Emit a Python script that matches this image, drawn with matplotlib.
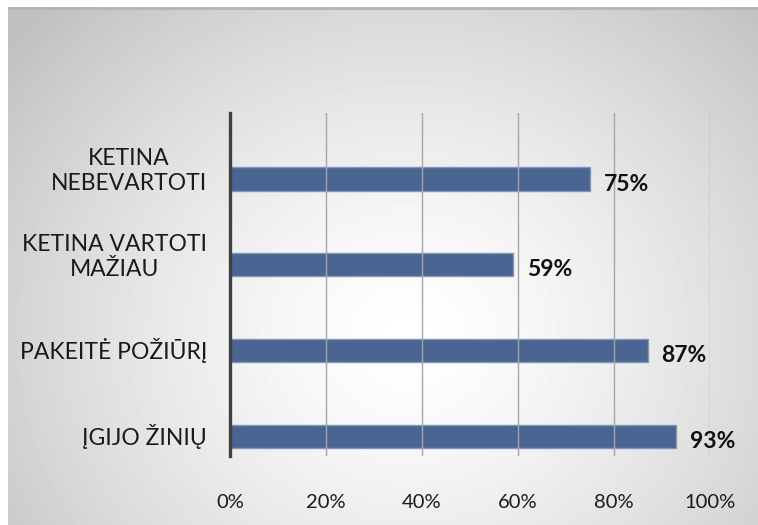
import numpy as np
import matplotlib
matplotlib.use('Agg')
import matplotlib.pyplot as plt

plt.rcParams['font.family'] = ['Lato', 'DejaVu Sans']

# data (bottom to top)
categories = ['ĮGIJO ŽINIŲ', 'PAKEITĖ POŽIŪRĮ', 'KETINA VARTOTI\nMAŽIAU', 'KETINA\nNEBEVARTOTI']
values = [93, 87, 59, 75]
ticks = [0, 20, 40, 60, 80, 100]
tick_labels = ['0%', '20%', '40%', '60%', '80%', '100%']

W, H = 758, 525
fig = plt.figure(figsize=(W / 100, H / 100), dpi=100)
fig.patch.set_facecolor('white')

# radial grey gradient behind the chart
bg = fig.add_axes([8 / W, 0, (W - 8) / W, (H - 7) / H])
yy, xx = np.mgrid[0:518, 0:750]
r = np.hypot((xx - 400) / 520, (yy - 330) / 470)
shade = 1.0 - 0.25 * np.clip(r, 0, 1) ** 1.4
bg.imshow(shade, cmap='gray', vmin=0, vmax=1, aspect='auto', interpolation='bilinear')
bg.axhline(0, color='#b4b4b4', lw=2)
bg.axis('off')

ax = fig.add_axes([230 / W, (H - 456) / H, 480 / W, 343 / H])
ax.patch.set_alpha(0)
ypos = np.arange(len(categories))
ax.barh(ypos, values, height=0.27, color='#4a6591', edgecolor='#8196ba', linewidth=1, zorder=2)
ax.set_xlim(0, 100)
ax.set_ylim(-0.23, 3.77)

ax.set_xticks(ticks)
ax.set_xticklabels(tick_labels, fontsize=14.5, color='#1a1a1a')
ax.set_yticks(ypos)
ax.set_yticklabels([])
ax.tick_params(axis='both', length=0)
ax.tick_params(axis='x', pad=27)

# category labels: right-aligned block, lines centred; two-line ones sit a bit higher
for y, name in zip(ypos, categories):
    lift = 8 if '\n' in name else 0
    ax.annotate(name, (0, y), xycoords=ax.get_yaxis_transform(), xytext=(-23, lift),
                textcoords='offset pixels', ha='right', va='center', multialignment='center',
                fontsize=16.5, color='#1a1a1a', linespacing=1.25, annotation_clip=False)

ax.grid(axis='x', color='#a6a6a6', lw=1, zorder=3)
ax.set_axisbelow(False)
for s in ['top', 'right', 'bottom']:
    ax.spines[s].set_visible(False)
ax.spines['left'].set_color('#404040')
ax.spines['left'].set_linewidth(2.4)
ax.spines['left'].set_zorder(4)

for y, v in zip(ypos, values):
    ax.annotate(f'{v}%', (v, y), xytext=(14, -5), textcoords='offset pixels',
                ha='left', va='center', fontsize=16.5, fontweight='bold', color='#111111')

fig.savefig('out.png', dpi=100)
